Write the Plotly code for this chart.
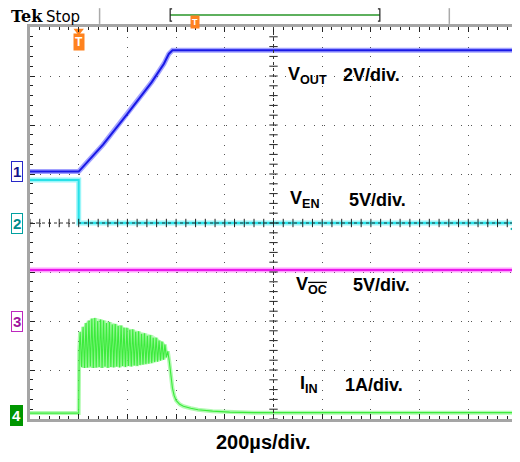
import plotly.graph_objects as go
import numpy as np

# ---------------- data ----------------
# time in microseconds, 200 us/div, trigger at t=0
vout_t = [-200, 0, 100, 200, 300, 350, 370, 385, 1800]
vout_v = [0.0, 0.0, 1.1, 2.35, 3.65, 4.4, 4.8, 4.95, 4.95]          # V, 2 V/div

ven_t = [-200, 0, 0, 1800]
ven_v = [4.4, 4.4, 0.0, 0.0]                                        # V, 5 V/div

voc_t = [-200, 1800]
voc_v = [5.2, 5.2]                                                  # V, 5 V/div

iin_t = [-200, 0, 2,
         6, 12, 18, 24, 30, 36, 42, 48, 54, 60, 66, 72, 78, 84, 90, 96,
         102, 108, 114, 120, 126, 132, 138, 144, 150, 156, 162, 168, 174, 180,
         186, 192, 198, 204, 210, 216, 222, 228, 234, 240, 246, 252, 258, 264,
         270, 276, 282, 288, 294, 300, 306, 312, 318, 324, 330, 336, 342, 348,
         354, 360, 366, 372, 378, 385, 392, 400, 415, 430, 460, 490, 550, 620,
         720, 1800]
iin_a = [0.04, 0.04, 1.30,
         1.70, 0.98, 1.80, 0.96, 1.88, 0.97, 1.93, 0.99, 1.97, 0.96, 1.98, 0.97, 1.92, 0.98, 1.95, 0.96,
         1.93, 0.99, 1.88, 0.96, 1.90, 0.98, 1.85, 0.97, 1.86, 0.99, 1.82, 0.97, 1.83, 1.00,
         1.78, 0.98, 1.78, 1.00, 1.74, 0.99, 1.75, 1.01, 1.70, 1.00, 1.71, 1.02, 1.66, 1.03,
         1.67, 1.04, 1.62, 1.05, 1.63, 1.06, 1.58, 1.08, 1.58, 1.09, 1.52, 1.11, 1.50, 1.13,
         1.44, 1.18, 1.30, 1.10, 0.80, 0.55, 0.40, 0.30, 0.22, 0.18, 0.14, 0.11, 0.08, 0.06,
         0.05, 0.05]                                                 # A, 1 A/div

iin_env_t = [2, 30, 66, 126, 186, 246, 306, 354, 364, 360, 300, 246, 186, 126, 66, 12, 2]
iin_env_hi = [1.60, 1.90, 1.99, 1.91, 1.80, 1.72, 1.63, 1.46, 1.32]
iin_env_lo = [1.16, 1.08, 1.02, 0.99, 0.97, 0.96, 0.96, 1.05]

# channel scales (units per division) and ground offsets (divisions)
ch1_scale, ch1_off = 2.0, 1.05
ch2_scale, ch2_off = 5.0, 0.0
ch3_scale, ch3_off = 5.0, -2.0
ch4_scale, ch4_off = 1.0, -3.92

def to_div(vals, scale, off):
    return [off + v / scale for v in vals]

BLUE = "rgb(25,25,230)"
CYAN = "rgb(40,225,232)"
MAG = "rgb(235,25,235)"
GREEN = "rgb(60,235,60)"

fig = go.Figure()

def noisy(t, y, col, band):
    fig.add_trace(go.Scatter(x=t, y=y, mode="lines", line=dict(color=band, width=5),
                             hoverinfo="skip", showlegend=False))
    fig.add_trace(go.Scatter(x=t, y=y, mode="lines", line=dict(color=col, width=2),
                             hoverinfo="skip", showlegend=False))

# current band fill (envelope)
env_y = to_div(iin_env_hi + iin_env_lo, ch4_scale, ch4_off)
fig.add_trace(go.Scatter(x=iin_env_t, y=env_y, mode="lines", fill="toself",
                         fillcolor="rgba(150,245,150,0.55)", line=dict(width=0),
                         hoverinfo="skip", showlegend=False))

noisy(voc_t, to_div(voc_v, ch3_scale, ch3_off), MAG, "rgba(255,80,255,0.55)")
noisy(ven_t, to_div(ven_v, ch2_scale, ch2_off), CYAN, "rgba(90,240,245,0.6)")
noisy(vout_t, to_div(vout_v, ch1_scale, ch1_off), BLUE, "rgba(70,70,255,0.5)")
fig.add_trace(go.Scatter(x=iin_t, y=to_div(iin_a, ch4_scale, ch4_off), mode="lines",
                         line=dict(color="rgba(100,245,100,0.5)", width=4),
                         hoverinfo="skip", showlegend=False))
fig.add_trace(go.Scatter(x=iin_t, y=to_div(iin_a, ch4_scale, ch4_off), mode="lines",
                         line=dict(color=GREEN, width=1.1),
                         hoverinfo="skip", showlegend=False))

# centre-line tick marks (graticule decoration)
xt = np.arange(-200, 1801, 40)
yt = np.arange(-4, 4.01, 0.2)
fig.add_trace(go.Scatter(x=xt, y=[0] * len(xt), mode="markers",
                         marker=dict(symbol="line-ns", size=6, line=dict(color="#222", width=1)),
                         hoverinfo="skip", showlegend=False))
fig.add_trace(go.Scatter(x=[800] * len(yt), y=yt, mode="markers",
                         marker=dict(symbol="line-ew", size=6, line=dict(color="#222", width=1)),
                         hoverinfo="skip", showlegend=False))

# trigger level arrow (right) and trigger position marker (top)
fig.add_trace(go.Scatter(x=[1790], y=[-0.12], mode="markers",
                         marker=dict(symbol="triangle-left", size=9, color="rgb(0,170,170)"),
                         hoverinfo="skip", showlegend=False, cliponaxis=False))
fig.add_trace(go.Scatter(x=[0], y=[3.92], mode="markers",
                         marker=dict(symbol="triangle-down", size=9, color="rgb(255,130,30)"),
                         hoverinfo="skip", showlegend=False, cliponaxis=False))

# channel marker pointers
mk_cols = ["rgb(40,40,200)", "rgb(0,160,160)", "rgb(190,40,190)", "rgb(0,150,0)"]
mk_fill = ["white", "white", "white", "rgb(0,150,0)"]
fig.add_trace(go.Scatter(x=[-212] * 4, y=[ch1_off, ch2_off, ch3_off, ch4_off], mode="markers",
                         marker=dict(symbol="triangle-right", size=8, color=mk_fill,
                                     line=dict(color=mk_cols, width=1)),
                         hoverinfo="skip", showlegend=False, cliponaxis=False))

shapes = [
    dict(type="line", xref="x", yref="y", x0=-200, x1=1800, y0=0, y1=0,
         line=dict(color="#333", width=1, dash="dot")),
    dict(type="line", xref="x", yref="y", x0=800, x1=800, y0=-4, y1=4,
         line=dict(color="#333", width=1, dash="dot")),
    # top bar separators
    dict(type="line", xref="paper", yref="paper", x0=0.1429, x1=0.1429, y0=1.008, y1=1.048,
         line=dict(color="#aaa", width=1.5)),
    dict(type="line", xref="paper", yref="paper", x0=0.861, x1=0.861, y0=1.008, y1=1.048,
         line=dict(color="#aaa", width=1.5)),
    # record-window bar
    dict(type="line", xref="paper", yref="paper", x0=0.2878, x1=0.7184, y0=1.0306, y1=1.0306,
         line=dict(color="rgb(40,150,40)", width=1.5)),
    dict(type="path", xref="paper", yref="paper",
         path="M 0.2918 1.046 L 0.2878 1.046 L 0.2878 1.015 L 0.2918 1.015",
         line=dict(color="#222", width=1.2)),
    dict(type="path", xref="paper", yref="paper",
         path="M 0.7144 1.046 L 0.7184 1.046 L 0.7184 1.015 L 0.7144 1.015",
         line=dict(color="#222", width=1.2)),
]

ann = []
def lab(x, y, text, size=18, color="black", xanchor="left", xref="x", yref="y", **kw):
    ann.append(dict(x=x, y=y, xref=xref, yref=yref, text=text, showarrow=False,
                    xanchor=xanchor, yanchor="middle",
                    font=dict(family="Liberation Sans, Arial", size=size, color=color), **kw))

lab(853, 3.02, "<b>V<sub>OUT</sub></b>")
lab(1078, 3.02, "<b>2V/div.</b>")
lab(861, 0.47, "<b>V<sub>EN</sub></b>")
lab(1102, 0.47, "<b>5V/div.</b>")
lab(886, -1.27, "<b>V<sub><span style='text-decoration:overline'>OC</span></sub></b>")
lab(1118, -1.27, "<b>5V/div.</b>")
lab(902, -3.3, "<b>I<sub>IN</sub></b>")
lab(1086, -3.3, "<b>1A/div.</b>")
lab(0.48, -0.058, "<b>200µs/div.</b>", size=20, xanchor="center", xref="paper", yref="paper")

# top bar text
ann.append(dict(x=-0.041, y=1.0, xref="paper", yref="paper", text="<b>Tek</b>", showarrow=False,
                xanchor="left", yanchor="bottom", borderpad=0,
                font=dict(family="DejaVu Serif", size=16, color="black")))
ann.append(dict(x=0.031, y=1.0, xref="paper", yref="paper", text="Stop", showarrow=False,
                xanchor="left", yanchor="bottom", borderpad=0,
                font=dict(family="DejaVu Sans", size=15, color="black")))
# orange trigger markers
ann.append(dict(x=0, y=3.7, xref="x", yref="y", text="<b>T</b>", showarrow=False,
                bgcolor="rgb(255,130,30)", borderpad=1,
                font=dict(family="Liberation Sans", size=12, color="white")))
ann.append(dict(x=0.3286, y=1.0306, xref="paper", yref="paper", text="<b>T</b>", showarrow=False,
                bgcolor="rgb(255,130,30)", borderpad=1,
                font=dict(family="Liberation Sans", size=9, color="white")))

# channel markers on the left
def chmark(y, num, border, txtcol, bg):
    ann.append(dict(x=-0.0275, y=y, xref="paper", yref="y", text="<b>%s</b>" % num, showarrow=False,
                    xanchor="center", yanchor="middle", bgcolor=bg, bordercolor=border,
                    borderwidth=1, borderpad=1,
                    font=dict(family="Liberation Sans", size=15, color=txtcol)))
chmark(ch1_off, "1", mk_cols[0], "rgb(20,20,140)", "white")
chmark(ch2_off, "2", mk_cols[1], "rgb(0,140,140)", "white")
chmark(ch3_off, "3", mk_cols[2], "rgb(160,20,160)", "white")
chmark(ch4_off, "4", mk_cols[3], "white", "rgb(0,150,0)")

axis_common = dict(showticklabels=False, showgrid=True, gridcolor="#555", gridwidth=1,
                   griddash="1px,8.8px", ticks="inside", ticklen=5, tickcolor="#222",
                   tickwidth=1, showline=True, linecolor="#a5a5a5", linewidth=3,
                   mirror="ticks", zeroline=False, fixedrange=True)

# page body has an 8px margin, so the figure is sized/margined to land the
# graticule at the same window position as the reference
fig.update_layout(
    width=512, height=454,
    margin=dict(l=22, r=0, t=19, b=43),
    paper_bgcolor="white", plot_bgcolor="white",
    showlegend=False,
    xaxis=dict(range=[-200, 1800], dtick=200, tick0=-200,
               minor=dict(dtick=40, ticks="inside", ticklen=3, tickcolor="#222", showgrid=False),
               **axis_common),
    yaxis=dict(range=[-4, 4], dtick=1, tick0=-4,
               minor=dict(dtick=0.2, ticks="inside", ticklen=3, tickcolor="#222", showgrid=False),
               **axis_common),
    shapes=shapes,
    annotations=ann,
)

fig.write_html("out.html")
